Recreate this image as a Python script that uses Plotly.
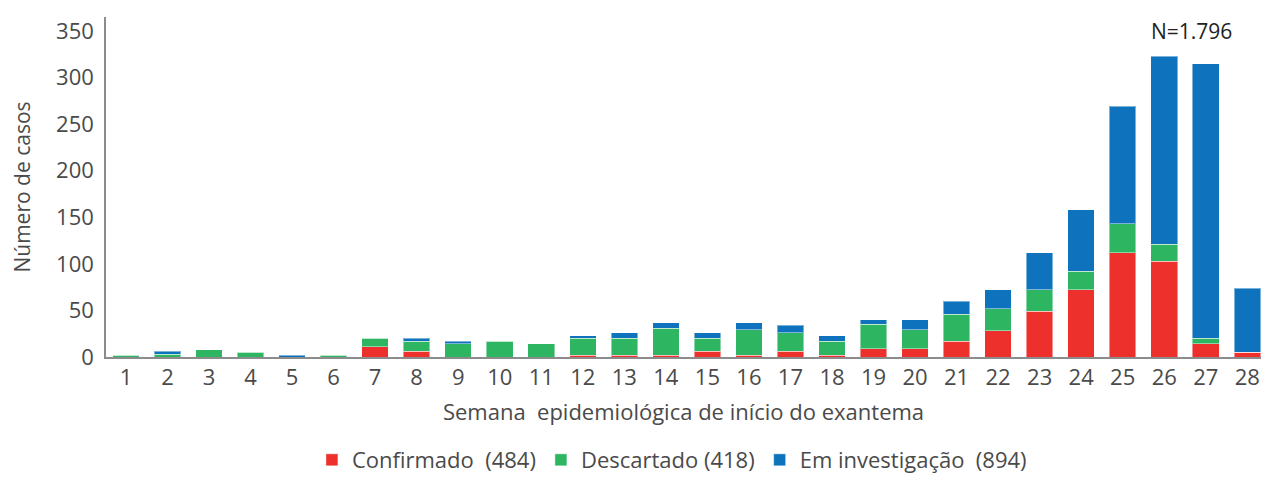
import plotly.graph_objects as go

weeks = list(range(1, 29))
confirmado = [0, 0, 0, 0, 0, 0, 11, 6, 0, 0, 0, 2, 2, 2, 6, 2, 6, 2, 9, 9, 17, 28, 49, 72, 112, 103, 14, 5]
descartado = [2, 3, 8, 5, 0, 2, 9, 11, 14, 17, 14, 18, 18, 29, 14, 27, 20, 15, 26, 20, 29, 24, 23, 20, 31, 18, 6, 0]
investigacao = [0, 3, 0, 0, 2, 0, 0, 3, 3, 0, 0, 3, 6, 6, 6, 8, 8, 6, 5, 11, 14, 20, 40, 66, 126, 202, 295, 69]

series_names = ["Confirmado\u00a0\u00a0(484)", "Descartado (418)", "Em investigação\u00a0\u00a0(894)"]
series_colors = ["#EE302C", "#2DB562", "#0E73BC"]
y_ticks = [0, 50, 100, 150, 200, 250, 300, 350]

font_family = "Open Sans, Noto Sans, DejaVu Sans, sans-serif"
text_color = "#4a4a4a"

fig = go.Figure()
for name, vals, col in zip(series_names, [confirmado, descartado, investigacao], series_colors):
    fig.add_trace(go.Bar(
        x=weeks, y=vals, name=name,
        marker=dict(color=col, line=dict(color="rgba(255,255,255,0.45)", width=1)),
    ))

fig.update_layout(
    width=1253, height=471,
    barmode="stack", bargap=0.36,
    plot_bgcolor="white", paper_bgcolor="white",
    margin=dict(l=98, r=0, t=9, b=122, autoexpand=False),
    font=dict(family=font_family, size=20, color=text_color),
    showlegend=True,
    legend=dict(
        orientation="h", x=0.49, xanchor="center", y=-0.303, yanchor="middle",
        font=dict(size=22, color=text_color), itemwidth=30, traceorder="normal",
    ),
    annotations=[dict(
        x=26.65, y=350, xref="x", yref="y", text="N=1.796", showarrow=False,
        font=dict(size=21, color="#222222"), xanchor="center", yanchor="middle",
    )],
)

fig.update_xaxes(
    range=[0.52, 28.33], tickmode="array", tickvals=weeks, ticktext=[str(w) for w in weeks],
    showgrid=False, showline=True, linecolor="#8c8c8c", linewidth=1.5, ticks="",
    tickfont=dict(size=22, color=text_color), automargin=False,
    title=dict(text="Semana\u00a0\u00a0epidemiológica de início do exantema", standoff=14,
               font=dict(size=22, color=text_color)),
    zeroline=False,
)
fig.update_yaxes(
    range=[0, 365], tickmode="array", tickvals=y_ticks, ticktext=[str(v) for v in y_ticks],
    showgrid=False, showline=True, linecolor="#8c8c8c", linewidth=1.5, ticks="",
    tickfont=dict(size=22, color=text_color), ticklabelstandoff=6, automargin=False,
    title=dict(text="Número de casos", standoff=20, font=dict(size=21, color=text_color)),
    zeroline=False,
)

fig.write_html("out.html")
